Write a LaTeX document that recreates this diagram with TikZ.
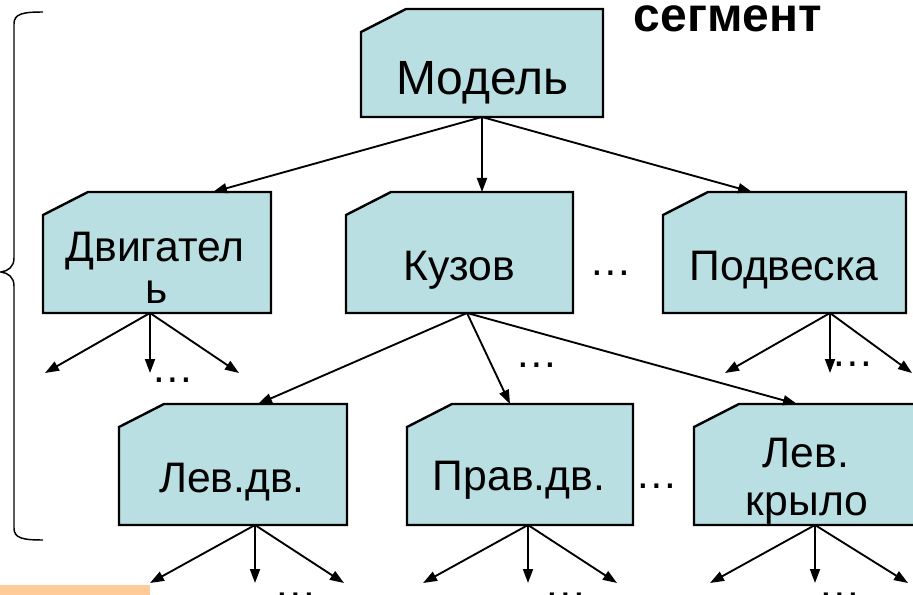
\documentclass[tikz,border=0pt]{standalone}
\usepackage{fontspec}
\setmainfont{Liberation Sans}
\usetikzlibrary{arrows.meta,calc}
\definecolor{boxfill}{RGB}{185,223,226}
\definecolor{orng}{RGB}{255,204,153}
\newcommand\drawcutbox[1]{\draw[boxline] ($(#1.north west)+(0,23)$) -- ($(#1.north west)+(45,0)$) -- (#1.north east) -- (#1.south east) -- (#1.south west) -- cycle;}
\begin{document}
\begin{tikzpicture}[x=0.75pt,y=-0.75pt,
  cbox/.style 2 args={inner sep=0pt, outer sep=0pt, minimum width=#1*0.75pt, minimum height=#2*0.75pt, anchor=north west, draw=none},
  boxline/.style={draw=black, line width=1.8pt, fill=boxfill, line join=miter},
  lbl/.style={anchor=base, inner sep=0pt, font=\fontsize{32}{36}\selectfont},
  arr/.style={line width=1.4pt, -{Triangle[length=10.5pt,width=7.5pt]}},
  bracestyle/.style={line width=1.1pt}]
\useasboundingbox (0,0) rectangle (913,595);
\clip (0,0) rectangle (913,595);
% boxes
\node[cbox={242}{108}] (mod) at (361,9) {};
\node[cbox={228}{121}] (dvi) at (43,192) {};
\node[cbox={227}{121}] (kuz) at (346,192) {};
\node[cbox={243}{121}] (pod) at (663,192) {};
\node[cbox={228}{121}] (ldv) at (119,404) {};
\node[cbox={226}{121}] (pdv) at (407,404) {};
\node[cbox={224}{121}] (lkr) at (694,404) {};
\drawcutbox{mod}
\drawcutbox{dvi}
\drawcutbox{kuz}
\drawcutbox{pod}
\drawcutbox{ldv}
\drawcutbox{pdv}
\drawcutbox{lkr}
% labels
\node[lbl, font=\fontsize{36}{40}\selectfont] (tmod) at (482.5,95) {Модель};
\node[lbl] (tdvi1) at (155,262) {Двигател};
\node[lbl] (tdvi2) at (157,303) {ь};
\node[lbl] (tkuz) at (459,280) {Кузов};
\node[lbl] (tpod) at (784,280) {Подвеска};
\node[lbl] (tldv) at (232,492) {Лев.дв.};
\node[lbl] (tpdv) at (519,490) {Прав.дв.};
\node[lbl] (tlkr1) at (806,467) {Лев.};
\node[lbl] (tlkr2) at (807,515) {крыло};
\node[anchor=base, inner sep=0pt, font=\fontsize{36}{40}\selectfont\bfseries] (seg) at (728,32) {сегмент};
% dots
\node[lbl] (d1) at (611,275) {…};
\node[lbl] (d2) at (657,488) {…};
\node[lbl] (d3) at (537,367) {…};
\node[lbl] (d4) at (173,382) {…};
\node[lbl] (d5) at (853,366) {…};
\node[lbl] (d6) at (296,597) {…};
\node[lbl] (d7) at (566,597) {…};
\node[lbl] (d8) at (840,597) {…};
% free ends
\coordinate (e1) at (45,373);
\coordinate (e2) at (150,373);
\coordinate (e3) at (239,373);
\coordinate (e4) at (725,373);
\coordinate (e5) at (830,373);
\coordinate (e6) at (912,373);
\coordinate (e7) at (150,583);
\coordinate (e8) at (255,583);
\coordinate (e9) at (344,583);
\coordinate (e10) at (423,583);
\coordinate (e11) at (528,583);
\coordinate (e12) at (617,583);
\coordinate (e13) at (710,583);
\coordinate (e14) at (815,583);
\coordinate (e15) at (908,583);
% connectors
\draw[arr] ($(mod.south west)+(121,0)$) -- ($(dvi.north west)+(170,0)$);
\draw[arr] ($(mod.south west)+(121,0)$) -- ($(kuz.north west)+(136,0)$);
\draw[arr] ($(mod.south west)+(121,0)$) -- ($(pod.north west)+(89,0)$);
\draw[arr] ($(kuz.south west)+(121,0)$) -- ($(ldv.north west)+(139,0)$);
\draw[arr] ($(kuz.south west)+(121,0)$) -- ($(pdv.north west)+(103,0)$);
\draw[arr] ($(kuz.south west)+(121,0)$) -- ($(lkr.north west)+(103,0)$);
\foreach \e in {e1,e2,e3} \draw[arr] ($(dvi.south west)+(107,0)$) -- (\e);
\foreach \e in {e4,e5,e6} \draw[arr] ($(pod.south west)+(167,0)$) -- (\e);
\foreach \e in {e7,e8,e9} \draw[arr] ($(ldv.south west)+(136,0)$) -- (\e);
\foreach \e in {e10,e11,e12} \draw[arr] ($(pdv.south west)+(121,0)$) -- (\e);
\foreach \e in {e13,e14,e15} \draw[arr] ($(lkr.south west)+(121,0)$) -- (\e);
% brace
\draw[bracestyle] (43,12) .. controls (22,12) and (14,14) .. (14,24) -- (14,258) .. controls (14,267) and (8,271) .. (1,272) .. controls (8,273) and (14,277) .. (14,286) -- (14,528) .. controls (14,538) and (22,540) .. (43,540);
% orange strip
\fill[orng] (0,585) rectangle (150,595);
\end{tikzpicture}
\end{document}
